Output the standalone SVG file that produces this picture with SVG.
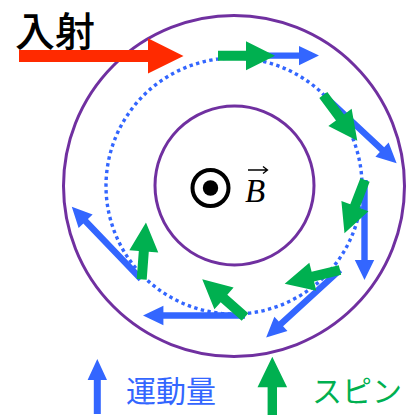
<svg xmlns="http://www.w3.org/2000/svg" width="414" height="419" viewBox="0 0 414 419">
  <style>
    .ring{fill:none;stroke:#7030a0;stroke-width:3}
    .orbit{fill:none;stroke:#3366ff;stroke-width:3.4;stroke-dasharray:3.4 3.4}
    .mom{fill:#3366ff}
    .spin{fill:#00b050}
    .jp{font-family:"Noto Sans CJK JP","Noto Sans",sans-serif}
  </style>
  <defs>
    <path id="blueArrow" d="M0,-3.2 L80,-3.2 L80,-9.7 L100,0 L80,9.7 L80,3.2 L0,3.2 Z"/>
    <path id="greenArrow" d="M0,-5 L28,-5 L28,-14.5 L57,0 L28,14.5 L28,5 L0,5 Z"/>
  </defs>

  <g id="outer-ring"><circle class="ring" cx="234" cy="186" r="170.5"/></g>
  <g id="inner-ring"><circle class="ring" cx="234.5" cy="185.5" r="79.5"/></g>
  <g id="orbit"><circle class="orbit" cx="234" cy="186" r="128"/></g>

  <g id="incident">
    <text class="jp" x="15" y="46" font-size="40" font-weight="500" fill="#000000">入射</text>
    <path d="M19,50 L148,50 L148,38.3 L183.5,56 L148,73.5 L148,62 L19,62 Z" fill="#ff2a00"/>
  </g>

  <g id="bfield">
    <circle cx="210.5" cy="188" r="18" fill="none" stroke="#000" stroke-width="4"/>
    <circle cx="210.5" cy="188" r="7.7" fill="#000"/>
    <text x="245" y="201.5" font-family="'Liberation Serif',serif" font-style="italic" font-size="33" fill="#000">B</text>
    <path d="M248,170 L267.5,170 M263,166.5 L267.5,170 L263,173.5" fill="none" stroke="#000" stroke-width="1.3"/>
  </g>

  <g id="connectors">
    <g id="momentum">
      <use href="#blueArrow" class="mom" transform="translate(219,55.6) rotate(0)"/>
      <use href="#blueArrow" class="mom" transform="translate(323.5,95) rotate(43)"/>
      <use href="#blueArrow" class="mom" transform="translate(364.5,180) rotate(90)"/>
      <use href="#blueArrow" class="mom" transform="translate(340,270) rotate(137.6)"/>
      <use href="#blueArrow" class="mom" transform="translate(245,315.5) rotate(180) scale(1.02,1)"/>
      <use href="#blueArrow" class="mom" transform="translate(141,279) rotate(226.2)"/>
    </g>
    <g id="spin">
      <use href="#greenArrow" class="spin" transform="translate(218,55.7) rotate(0)"/>
      <use href="#greenArrow" class="spin" transform="translate(323.3,95) rotate(53.4)"/>
      <use href="#greenArrow" class="spin" transform="translate(365,180) rotate(111.1)"/>
      <use href="#greenArrow" class="spin" transform="translate(340,270) rotate(166.1)"/>
      <use href="#greenArrow" class="spin" transform="translate(245,317) rotate(221.4)"/>
      <use href="#greenArrow" class="spin" transform="translate(141.7,279.3) rotate(274.3)"/>
    </g>
  </g>

  <g id="legend-momentum">
    <path d="M93.8,414 L93.8,380 L87.6,380 L97.3,359 L107,380 L100.8,380 L100.8,414 Z" fill="#3366ff"/>
    <text class="jp" x="126" y="402" font-size="30" fill="#3366ff">運動量</text>
  </g>
  <g id="legend-spin">
    <path d="M267.6,415 L267.6,387.3 L257.5,387.3 L272.3,356.7 L287.1,387.3 L277,387.3 L277,415 Z" fill="#00b050"/>
    <text class="jp" x="312" y="402" font-size="30" fill="#00b050">スピン</text>
  </g>
</svg>
